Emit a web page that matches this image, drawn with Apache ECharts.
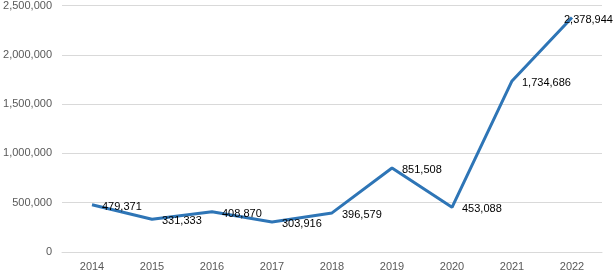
<!DOCTYPE html>
<html>
<head>
<meta charset="utf-8">
<script src="https://cdn.jsdelivr.net/npm/echarts@6/dist/echarts.min.js"></script>
<style>
html,body{margin:0;padding:0;background:#fff;}
#chart{width:614px;height:275px;}
</style>
</head>
<body>
<div id="chart"></div>
<script>
var years=['2014','2015','2016','2017','2018','2019','2020','2021','2022'];
var values=[479371,331333,408870,303916,396579,851508,453088,1734686,2378944];

var myChart=echarts.init(document.getElementById('chart'));
// 最后一个标签向左挪，避免超出画布
var seriesData=values.map(function(v,i){
	if(i==values.length-1){
		return {value:v,label:{offset:[-18,3]}};
	}
	return v;
});
var option={
	animation:false,
	grid:{
		left:62,
		right:12,
		top:5,
		bottom:23
	},
	xAxis:{
		type:'category',
		data:years,
		boundaryGap:true,
		axisLine:{lineStyle:{color:'#d9d9d9',width:1}},
		axisTick:{show:false},
		axisLabel:{color:'#595959',fontSize:11,fontFamily:'Liberation Sans',margin:9}
	},
	yAxis:{
		type:'value',
		min:0,
		max:2500000,
		interval:500000,
		axisLine:{show:false},
		axisTick:{show:false},
		splitLine:{lineStyle:{color:'#d9d9d9',width:1}},
		axisLabel:{
			color:'#595959',fontSize:11,fontFamily:'Liberation Sans',margin:10,
			formatter:function(v){return v.toLocaleString('en-US');}
		}
	},
	series:[{
		type:'line',
		data:seriesData,
		symbol:'circle',
		symbolSize:0,
		showSymbol:true,
		itemStyle:{color:'#2e75b6'},
		lineStyle:{color:'#2e75b6',width:3},
		label:{
			show:true,
			position:'right',
			distance:10,
			offset:[0,2],
			color:'#000',
			fontSize:11,
			fontFamily:'Liberation Sans',
			formatter:function(p){return p.value.toLocaleString('en-US');}
		}
	}]
};
myChart.setOption(option);
</script>
</body>
</html>
